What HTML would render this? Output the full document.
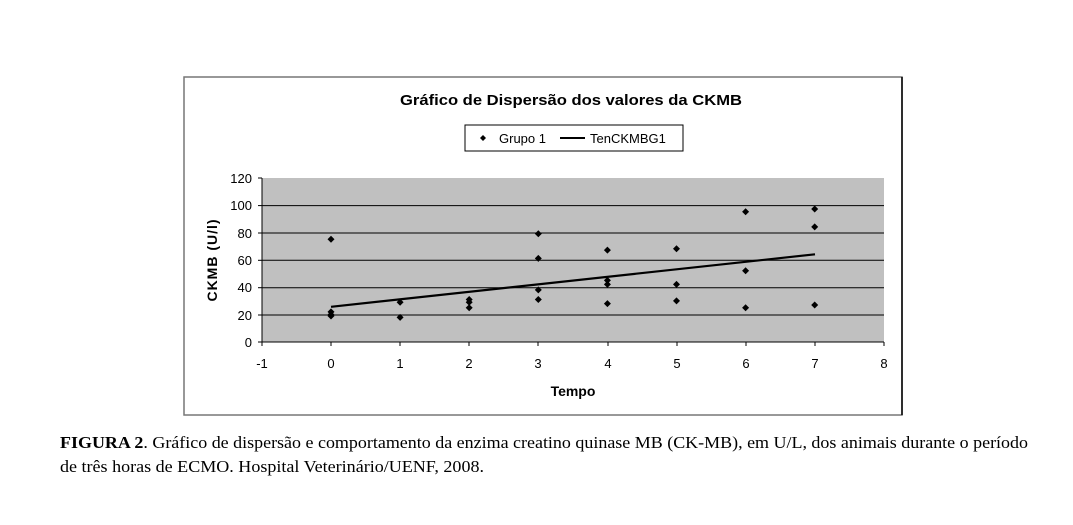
<!DOCTYPE html><html><head><style>body{margin:0;background:#fff;width:1073px;height:520px;overflow:hidden}</style></head><body>
<svg width="1073" height="520" xmlns="http://www.w3.org/2000/svg" font-family="Liberation Sans, sans-serif">
<rect x="184" y="77" width="718" height="338" fill="#fff" stroke="#777" stroke-width="1.5"/>
<line x1="902" y1="77" x2="902" y2="415" stroke="#000" stroke-width="1.5"/>
<text x="571" y="105" font-size="15" font-weight="bold" text-anchor="middle" textLength="342" lengthAdjust="spacingAndGlyphs">Gráfico de Dispersão dos valores da CKMB</text>
<rect x="465" y="125" width="218" height="26" fill="#fff" stroke="#000"/>
<path d="M483 135l3 3-3 3-3-3z" fill="#000"/>
<text x="499" y="143" font-size="13">Grupo 1</text>
<line x1="560" y1="138" x2="585" y2="138" stroke="#000" stroke-width="2"/>
<text x="590" y="143" font-size="13">TenCKMBG1</text>
<rect x="262" y="178" width="622" height="164" fill="#c0c0c0"/>
<g stroke="#000" stroke-width="1">
<line x1="262" y1="205.6" x2="884" y2="205.6"/><line x1="262" y1="233" x2="884" y2="233"/><line x1="262" y1="260.3" x2="884" y2="260.3"/><line x1="262" y1="287.7" x2="884" y2="287.7"/><line x1="262" y1="315" x2="884" y2="315"/>
<line x1="262" y1="178" x2="262" y2="342"/><line x1="262" y1="342" x2="884" y2="342"/>
<line x1="258" y1="178" x2="262" y2="178"/><line x1="258" y1="205.6" x2="262" y2="205.6"/><line x1="258" y1="233" x2="262" y2="233"/><line x1="258" y1="260.3" x2="262" y2="260.3"/><line x1="258" y1="287.7" x2="262" y2="287.7"/><line x1="258" y1="315" x2="262" y2="315"/><line x1="258" y1="342" x2="262" y2="342"/>
</g>
<g stroke="#000"><line x1="262" y1="342" x2="262" y2="346"/><line x1="331" y1="342" x2="331" y2="346"/><line x1="400" y1="342" x2="400" y2="346"/><line x1="469" y1="342" x2="469" y2="346"/><line x1="538" y1="342" x2="538" y2="346"/><line x1="608" y1="342" x2="608" y2="346"/><line x1="677" y1="342" x2="677" y2="346"/><line x1="746" y1="342" x2="746" y2="346"/><line x1="815" y1="342" x2="815" y2="346"/><line x1="884" y1="342" x2="884" y2="346"/></g>
<g font-size="13" text-anchor="end"><text x="252" y="183">120</text><text x="252" y="210">100</text><text x="252" y="238">80</text><text x="252" y="265">60</text><text x="252" y="292">40</text><text x="252" y="320">20</text><text x="252" y="347">0</text></g>
<g font-size="13" text-anchor="middle"><text x="262" y="368">-1</text><text x="331" y="368">0</text><text x="400" y="368">1</text><text x="469" y="368">2</text><text x="538" y="368">3</text><text x="608" y="368">4</text><text x="677" y="368">5</text><text x="746" y="368">6</text><text x="815" y="368">7</text><text x="884" y="368">8</text></g>
<text x="573" y="396" font-size="14" font-weight="bold" text-anchor="middle">Tempo</text>
<text transform="translate(217,260) rotate(-90)" font-size="14" font-weight="bold" text-anchor="middle" letter-spacing="1">CKMB (U/l)</text>
<line x1="331" y1="306.8" x2="815" y2="254.3" stroke="#000" stroke-width="2.2"/>
<g fill="#000" id="pts"></g>
<text x="60" y="448" font-family="Liberation Serif, serif" font-size="17" textLength="968" lengthAdjust="spacingAndGlyphs"><tspan font-weight="bold">FIGURA 2</tspan>. Gráfico de dispersão e comportamento da enzima creatino quinase MB (CK-MB), em U/L, dos animais durante o período</text>
<text x="60" y="472" font-family="Liberation Serif, serif" font-size="17" textLength="424" lengthAdjust="spacingAndGlyphs">de três horas de ECMO. Hospital Veterinário/UENF, 2008.</text>
</svg>
<script>
var d=[[0,75],[0,22],[0,20],[0,19],[1,29],[1,18],[2,31],[2,29],[2,25],[3,79],[3,61],[3,38],[3,31],[4,67],[4,45],[4,42],[4,28],[5,68],[5,42],[5,30],[6,95],[6,52],[6,25],[7,97],[7,84],[7,27]];
var g=document.getElementById('pts'),s='';
d.forEach(function(p){var x=331+p[0]*69.1,y=342-p[1]*1.3708;s+='<path d="M'+x+' '+(y-3.5)+'l3.5 3.5-3.5 3.5-3.5-3.5z"/>';});
g.innerHTML=s;
</script>
</body></html>
